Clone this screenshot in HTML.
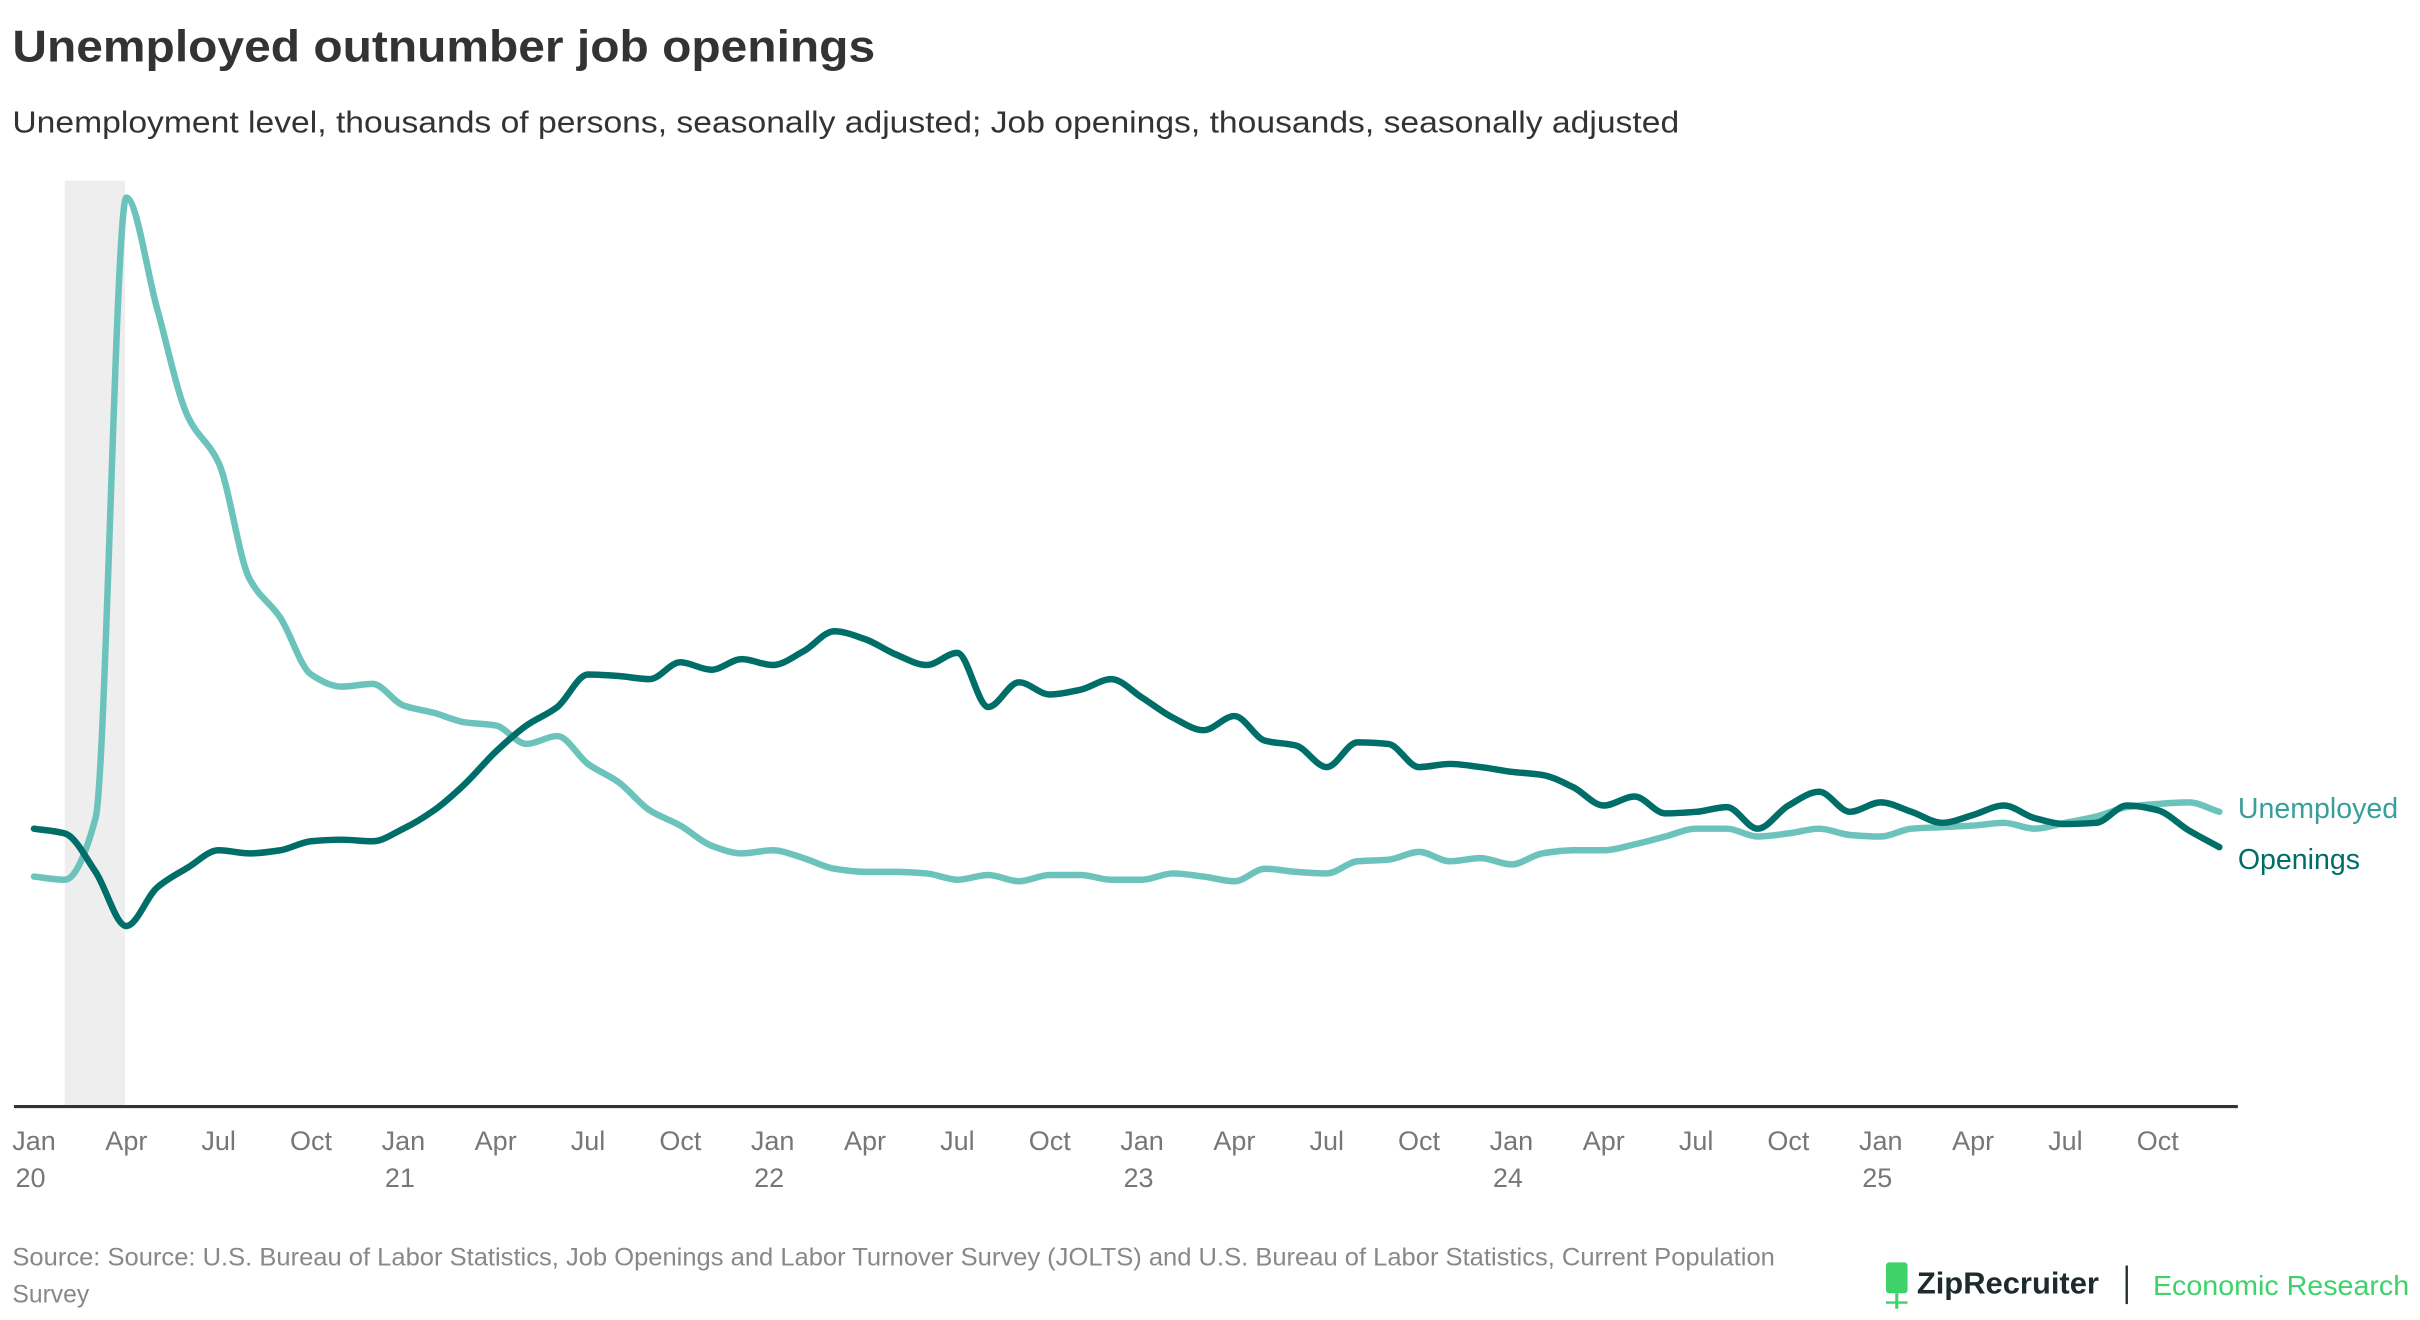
<!DOCTYPE html>
<html><head><meta charset="utf-8"><style>
html,body{margin:0;padding:0;background:#fff;}
svg{display:block;font-family:"Liberation Sans",sans-serif;}
</style></head><body>
<svg id="chart" width="2420" height="1320" viewBox="0 0 1568 855.3" xmlns="http://www.w3.org/2000/svg">
<text x="8" y="40" font-size="29" font-weight="bold" fill="#333" textLength="559" lengthAdjust="spacingAndGlyphs">Unemployed outnumber job openings</text>
<text x="8" y="86" font-size="20" fill="#333" textLength="1080" lengthAdjust="spacingAndGlyphs">Unemployment level, thousands of persons, seasonally adjusted; Job openings, thousands, seasonally adjusted</text>
<rect x="42" y="117" width="39" height="600" fill="#eeeeee"/>
<g id="lines"></g>
<line x1="9" x2="1450" y1="717" y2="717" stroke="#333" stroke-width="2"/>
<g id="ticks"></g>
<text x="1450" y="530" font-size="18.5" fill="#3a9f98">Unemployed</text>
<text x="1450" y="563" font-size="18.5" fill="#006e68">Openings</text>
<text font-size="16" fill="#888"><tspan x="8" y="820" textLength="1142" lengthAdjust="spacingAndGlyphs">Source: Source: U.S. Bureau of Labor Statistics, Job Openings and Labor Turnover Survey (JOLTS) and U.S. Bureau of Labor Statistics, Current Population</tspan><tspan x="8" y="844">Survey</tspan></text>
<g>
<rect x="1222" y="818" width="14" height="20" rx="2" fill="#3fd26a"/>
<line x1="1229" y1="838" x2="1229" y2="848" stroke="#3fd26a" stroke-width="2"/>
<line x1="1222" y1="844" x2="1236" y2="844" stroke="#3fd26a" stroke-width="1.5"/>
<text x="1242" y="838" font-size="20" font-weight="bold" fill="#1d2b2b" textLength="118" lengthAdjust="spacingAndGlyphs">ZipRecruiter</text>
<line x1="1378" y1="820" x2="1378" y2="845" stroke="#1d2b2b" stroke-width="1.5"/>
<text x="1395" y="839" font-size="18" fill="#3fd26a" textLength="166" lengthAdjust="spacingAndGlyphs">Economic Research</text>
</g>
</svg>
<script>
const unemployed=[5860,5780,7350,23160,20330,17580,16400,13450,12460,11010,10700,10770,
10220,10030,9790,9710,9240,9440,8730,8260,7550,7160,6650,6450,
6530,6330,6060,5980,5980,5940,5780,5900,5740,5900,5900,5780,
5780,5940,5860,5740,6060,5980,5940,6250,6290,6490,6250,6330,
6170,6450,6530,6530,6680,6880,7080,7080,6880,6960,7080,6920,
6880,7080,7120,7160,7230,7080,7230,7390,7630,7710,7750,7510];
const openings=[7080,6960,5980,4600,5580,6090,6530,6450,6530,6760,6800,6760,
7080,7550,8220,9040,9710,10180,11010,10970,10890,11320,11130,11400,
11250,11600,12110,11910,11520,11250,11560,10180,10810,10500,10620,10890,
10420,9910,9590,9950,9320,9200,8650,9280,9240,8650,8730,8650,
8530,8450,8140,7670,7900,7470,7510,7630,7080,7670,8020,7510,
7750,7510,7230,7430,7670,7350,7200,7230,7670,7550,7040,6610];
const tickMonths=["Jan","Apr","Jul","Oct"];
const tickYears=["20","21","22","23","24","25"];
const NS="http://www.w3.org/2000/svg";
function xScale(i){return 22+i*(1438-22)/71;}
function yScale(v){return 717-v*0.02543;}
function pathFor(vals){
  const p=vals.map((v,i)=>[xScale(i),yScale(v)]);
  const n=p.length,h=p[1][0]-p[0][0];
  const s=[];for(let i=0;i<n-1;i++)s.push((p[i+1][1]-p[i][1])/h);
  const m=[s[0]];
  for(let i=1;i<n-1;i++){m.push(s[i-1]*s[i]<=0?0:2/(1/s[i-1]+1/s[i]));}
  m.push(s[n-2]);
  let d="M"+p[0][0]+","+p[0][1];
  for(let i=0;i<n-1;i++){
    d+=" C"+(p[i][0]+h/3)+","+(p[i][1]+m[i]*h/3)+" "+(p[i+1][0]-h/3)+","+(p[i+1][1]-m[i+1]*h/3)+" "+p[i+1][0]+","+p[i+1][1];
  }
  return d;
}
const g=document.getElementById("lines");
function addLine(vals,color,name){
  const el=document.createElementNS(NS,"path");
  el.setAttribute("d",pathFor(vals));
  el.setAttribute("fill","none");
  el.setAttribute("stroke",color);
  el.setAttribute("stroke-width","4.2");
  el.setAttribute("stroke-linecap","round");
  el.setAttribute("stroke-linejoin","round");
  
  
  g.appendChild(el);
}
addLine(unemployed,"#6cc3bc","unemployed-line");
addLine(openings,"#006e68","openings-line");
const t=document.getElementById("ticks");
for(let q=0;q<24;q++){
  const x=xScale(q*3);
  const el=document.createElementNS(NS,"text");
  el.setAttribute("x",x);el.setAttribute("y",745);
  el.setAttribute("text-anchor","middle");el.setAttribute("font-size","17.5");el.setAttribute("fill","#777");
  el.textContent=tickMonths[q%4];
  
  
  t.appendChild(el);
  if(q%4===0){
    const y=document.createElementNS(NS,"text");
    y.setAttribute("x",x-12);y.setAttribute("y",769);
    y.setAttribute("font-size","17.5");y.setAttribute("fill","#777");
    y.textContent=tickYears[q/4];
    
    
    t.appendChild(y);
  }
}
</script>
</body></html>
